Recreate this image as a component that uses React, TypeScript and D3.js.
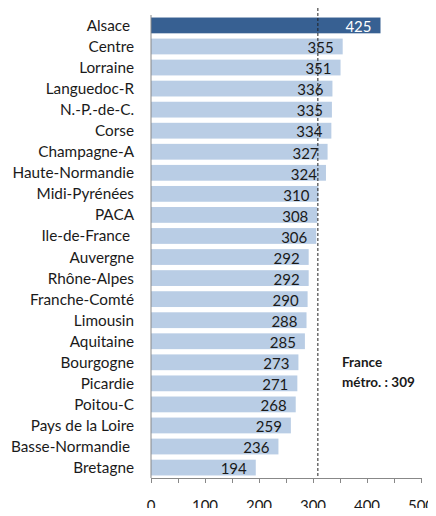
import React, { useEffect, useRef } from 'react';
import * as d3 from 'd3';

const regions = [
  'Alsace ', 'Centre', 'Lorraine', 'Languedoc-R', 'N.-P.-de-C.', 'Corse', 'Champagne-A',
  'Haute-Normandie', 'Midi-Pyrénées', 'PACA', 'Ile-de-France ', 'Auvergne', 'Rhône-Alpes',
  'Franche-Comté', 'Limousin', 'Aquitaine', 'Bourgogne', 'Picardie', 'Poitou-C',
  'Pays de la Loire', 'Basse-Normandie ', 'Bretagne',
];
const values = [425, 355, 351, 336, 335, 334, 327, 324, 310, 308, 306, 292, 292, 290, 288, 285, 273, 271, 268, 259, 236, 194];
const franceValue = 309;
const xTicks = [0, 100, 200, 300, 400, 500];

function App() {
  const ref = useRef<HTMLDivElement>(null);
  const width = 436;
  const height = 516;

  useEffect(() => {
    if (!ref.current) return;
    d3.select(ref.current).select('svg').remove();

    const svg = d3.select(ref.current)
      .append('svg')
      .attr('width', width)
      .attr('height', height)
      .style('display', 'block')
      .style('font-family', 'Lato, "Open Sans", sans-serif');

    const x = d3.scaleLinear().domain([0, 500]).range([151, 421]);
    const y = d3.scaleBand<string>()
      .domain(regions)
      .range([15, 478])
      .paddingInner(0.25)
      .paddingOuter(0.12);

    // bars
    svg.append('g')
      .selectAll('rect')
      .data(values)
      .enter()
      .append('rect')
      .attr('x', x(0))
      .attr('y', (_, i) => y(regions[i])!)
      .attr('width', (d) => x(d) - x(0))
      .attr('height', y.bandwidth())
      .attr('fill', (_, i) => (i === 0 ? '#376092' : '#b9cde5'));

    // dashed average line
    svg.append('line')
      .attr('x1', x(franceValue))
      .attr('x2', x(franceValue))
      .attr('y1', 8)
      .attr('y2', 478)
      .attr('stroke', '#222')
      .attr('stroke-width', 1)
      .attr('stroke-dasharray', '3,2');

    // value labels
    svg.append('g')
      .selectAll('text')
      .data(values)
      .enter()
      .append('text')
      .attr('x', (d) => x(d) - 9)
      .attr('y', (_, i) => y(regions[i])! + y.bandwidth() / 2)
      .attr('dy', '0.45em')
      .attr('text-anchor', 'end')
      .attr('font-size', 15)
      .attr('fill', (_, i) => (i === 0 ? '#fff' : '#1a1a1a'))
      .text((d) => d);

    // category labels
    svg.append('g')
      .selectAll('text')
      .data(regions)
      .enter()
      .append('text')
      .attr('x', 134)
      .attr('y', (d) => y(d)! + y.bandwidth() / 2)
      .attr('dy', '0.36em')
      .attr('text-anchor', 'end')
      .attr('font-size', 15.3)
      .attr('fill', '#1a1a1a')
      .style('white-space', 'pre')
      .text((d) => d);

    // left axis line
    svg.append('line')
      .attr('x1', x(0)).attr('x2', x(0))
      .attr('y1', 15).attr('y2', 478)
      .attr('stroke', '#888');

    // bottom axis
    const axis = svg.append('g')
      .attr('transform', 'translate(0,478)')
      .call(d3.axisBottom(x).tickValues(d3.range(0, 501, 50)).tickSize(5).tickFormat(() => ''));
    axis.select('.domain').attr('stroke', '#888');
    axis.selectAll('.tick line').attr('stroke', '#888');

    svg.append('g')
      .selectAll('text')
      .data(xTicks)
      .enter()
      .append('text')
      .attr('x', (d) => x(d))
      .attr('y', 506)
      .attr('dy', '0.36em')
      .attr('text-anchor', 'middle')
      .attr('font-size', 15)
      .attr('fill', '#1a1a1a')
      .text((d) => d);

    // annotation
    const note = svg.append('text')
      .attr('font-size', 13.5)
      .attr('font-weight', 'bold')
      .attr('fill', '#1a1a1a');
    note.append('tspan').attr('x', 342).attr('y', 367).text('France');
    note.append('tspan').attr('x', 342).attr('y', 387).text(`métro. : ${franceValue}`);
  }, []);

  return <div ref={ref} style={{ margin: -8 }}></div>;
}

export default App;
